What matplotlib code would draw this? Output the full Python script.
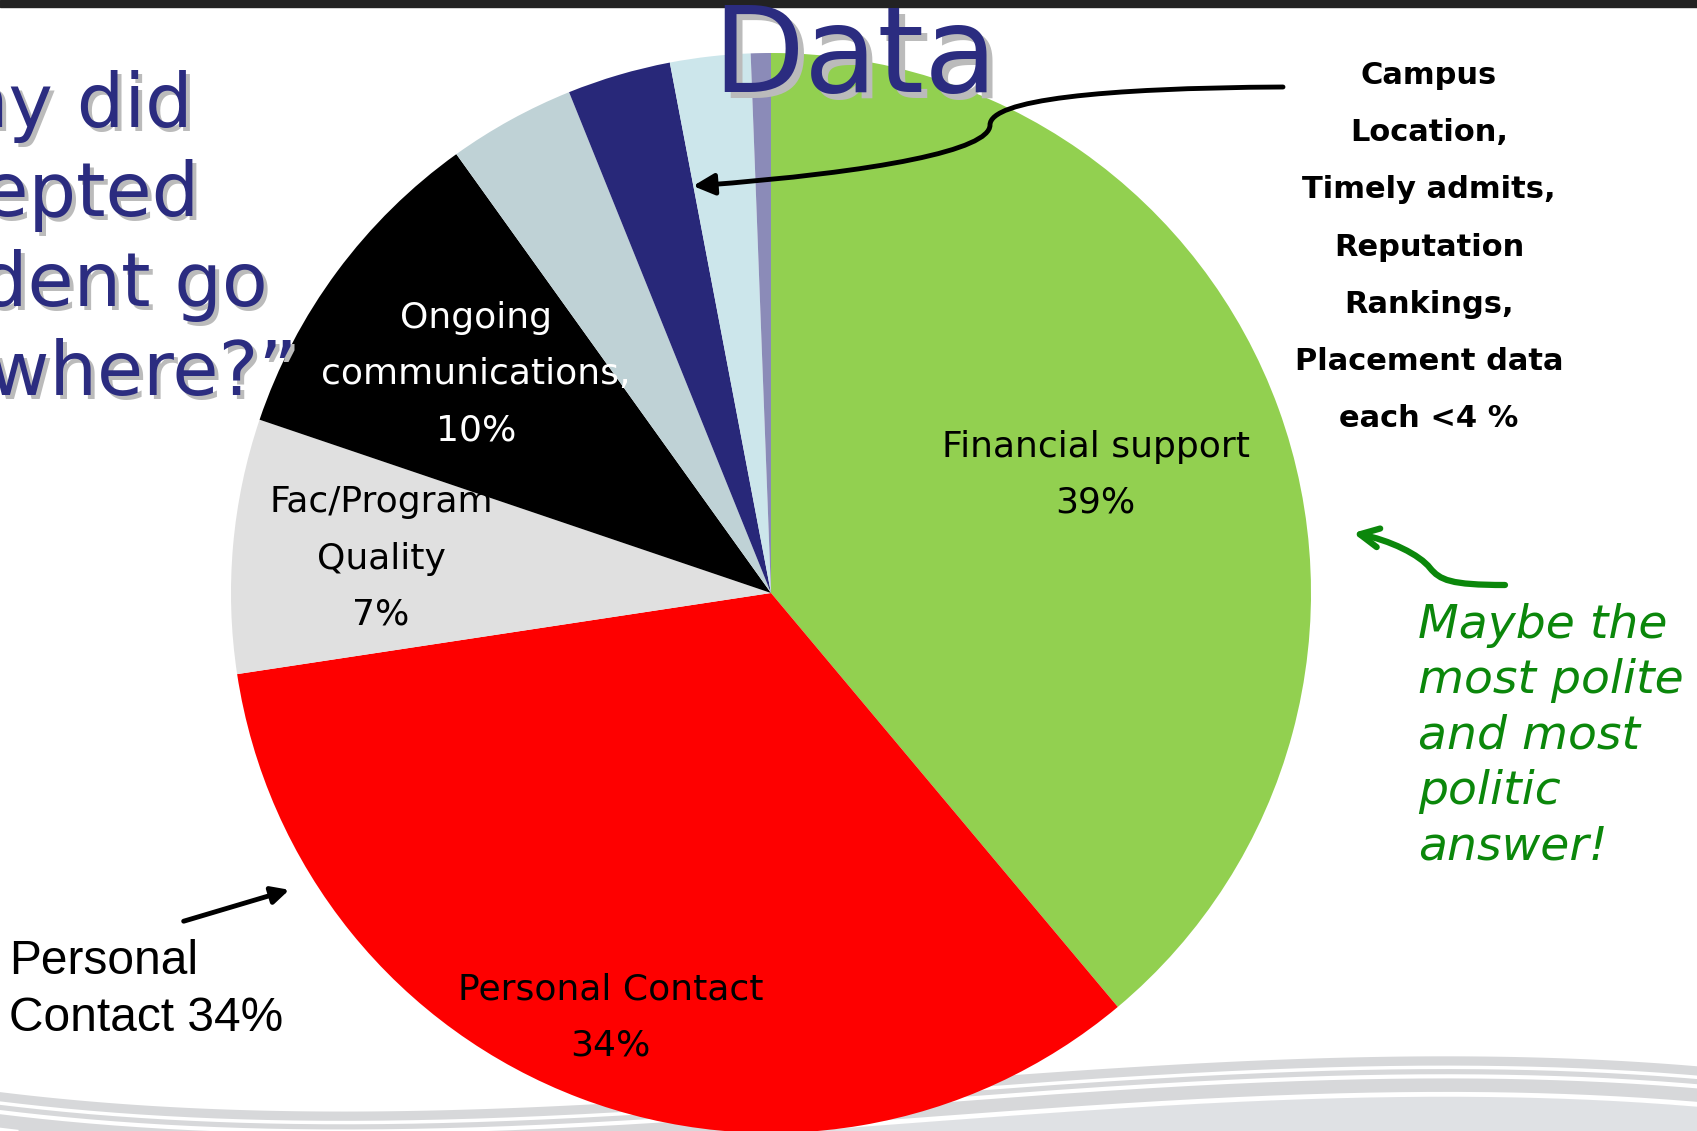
import matplotlib
matplotlib.use("Agg")
import matplotlib.pyplot as plt
import numpy as np
from matplotlib.path import Path
from matplotlib.patches import FancyArrowPatch

# slice data, clockwise from 12 o'clock
labels = ['Financial support', 'Personal Contact', 'Fac/Program Quality',
          'Ongoing communications', 'Campus Location', 'Timely admits',
          'Reputation Rankings', 'Placement data']
values = [38.9, 33.7, 7.6, 9.9, 3.8, 3.1, 2.4, 0.6]
colors = ['#92D050', '#FE0000', '#E0E0E0', '#000000',
          '#BFD2D6', '#282879', '#CCE6EB', '#8B8BB8']

# text shown inside the big slices
slice_text = ['Financial support\n39%', 'Personal Contact\n34%',
              'Fac/Program\nQuality\n7%', 'Ongoing\ncommunications,\n10%']
slice_text_col = ['black', 'black', 'black', 'white']
slice_text_r = [0.64, 0.84, 0.725, 0.68]

question = ['\u201cWhy did', 'accepted', 'student go', 'elsewhere?\u201d']
small_note = 'Campus\nLocation,\nTimely admits,\nReputation\nRankings,\nPlacement data\neach <4 %'
green_note = 'Maybe the\nmost polite\nand most\npolitic\nanswer!'

W, H = 1697, 1131
fig = plt.figure(figsize=(W / 100, H / 100), dpi=100)
fig.patch.set_facecolor('white')

# background: top bar + grey swooshes of the slide template
bg = fig.add_axes([0, 0, 1, 1], zorder=0)
bg.set_xlim(0, W)
bg.set_ylim(H, 0)
bg.axis('off')
bg.axhspan(0, 7, color='#222222')
sw_x = [0, 550, 1000, 1370, 1697]
sw_y = [1092, 1107, 1075, 1058, 1066]
coef = np.polyfit(sw_x, sw_y, 3)
xs = np.linspace(0, W, 400)
top = np.polyval(coef, xs)
bg.fill_between(xs, top, H, color='#D7D8DA', lw=0)
bg.fill_between(xs, top + 40, H, color='#DFE1E4', lw=0)
for off, lw in [(11, 2.5), (20, 3), (38, 3.5)]:
    bg.plot(xs, top + off, color='white', lw=lw)

# pie
cx, cy, r = 771, 593, 540
pax = fig.add_axes([(cx - r) / W, 1 - (cy + r) / H, 2 * r / W, 2 * r / H], zorder=1)
wedges, _ = pax.pie(values, colors=colors, startangle=90, counterclock=False,
                    radius=1, wedgeprops=dict(linewidth=0))
pax.set_xlim(-1, 1)
pax.set_ylim(-1, 1)
pax.axis('off')

for w, txt, col, rr in zip(wedges, slice_text, slice_text_col, slice_text_r):
    ang = np.deg2rad((w.theta1 + w.theta2) / 2)
    pax.text(rr * np.cos(ang), rr * np.sin(ang), txt, ha='center', va='center',
             color=col, fontsize=26, linespacing=1.82, family='DejaVu Sans')

# overlay for slide texts and arrows
ov = fig.add_axes([0, 0, 1, 1], zorder=2)
ov.patch.set_alpha(0)
ov.set_xlim(0, W)
ov.set_ylim(H, 0)
ov.axis('off')

navy = '#2B2C80'
# title
for dx, col in [(6, '#BBBBBB'), (0, navy)]:
    ov.text(855 + dx, 92 + dx, 'Data', ha='center', va='baseline',
            fontsize=86, color=col, family='DejaVu Sans')

# question, cut off at the left edge
q_right = [193, 200, 268, 298]
q_base = [127, 216, 306, 395]
for txt, xr, yb in zip(question, q_right, q_base):
    for dx, col in [(4, '#BBBBBB'), (0, navy)]:
        ov.text(xr + dx, yb + dx, txt, ha='right', va='baseline',
                fontsize=54, color=col, family='DejaVu Sans')

ov.text(1429, 247, small_note, ha='center', va='center', fontsize=22,
        fontweight='bold', linespacing=2.22, family='DejaVu Sans')

ov.text(1418, 736, green_note, ha='left', va='center', fontsize=34,
        style='italic', color='#0B870B', linespacing=1.3, family='DejaVu Sans')

ov.text(9, 990, 'Personal\nContact 34%', ha='left', va='center', fontsize=34.5,
        linespacing=1.37, family='Liberation Sans')

# arrows
p1 = Path([(1283, 87), (1100, 88), (990, 100), (990, 125),
           (990, 150), (880, 172), (693, 186)],
          [Path.MOVETO, Path.CURVE4, Path.CURVE4, Path.CURVE4,
           Path.CURVE4, Path.CURVE4, Path.CURVE4])
ov.add_patch(FancyArrowPatch(path=p1, arrowstyle='-|>', mutation_scale=32,
                             lw=3.5, color='black'))

p2 = Path([(1505, 585), (1450, 585), (1440, 580), (1430, 568),
           (1420, 555), (1390, 540), (1353, 533)],
          [Path.MOVETO, Path.CURVE4, Path.CURVE4, Path.CURVE4,
           Path.CURVE4, Path.CURVE4, Path.CURVE4])
ov.add_patch(FancyArrowPatch(path=p2, arrowstyle='->', mutation_scale=34,
                             lw=4.5, color='#0B870B'))

ov.add_patch(FancyArrowPatch((181, 922), (292, 889), arrowstyle='-|>',
                             mutation_scale=26, lw=3.5, color='black'))

fig.savefig('out.png', dpi=100)
